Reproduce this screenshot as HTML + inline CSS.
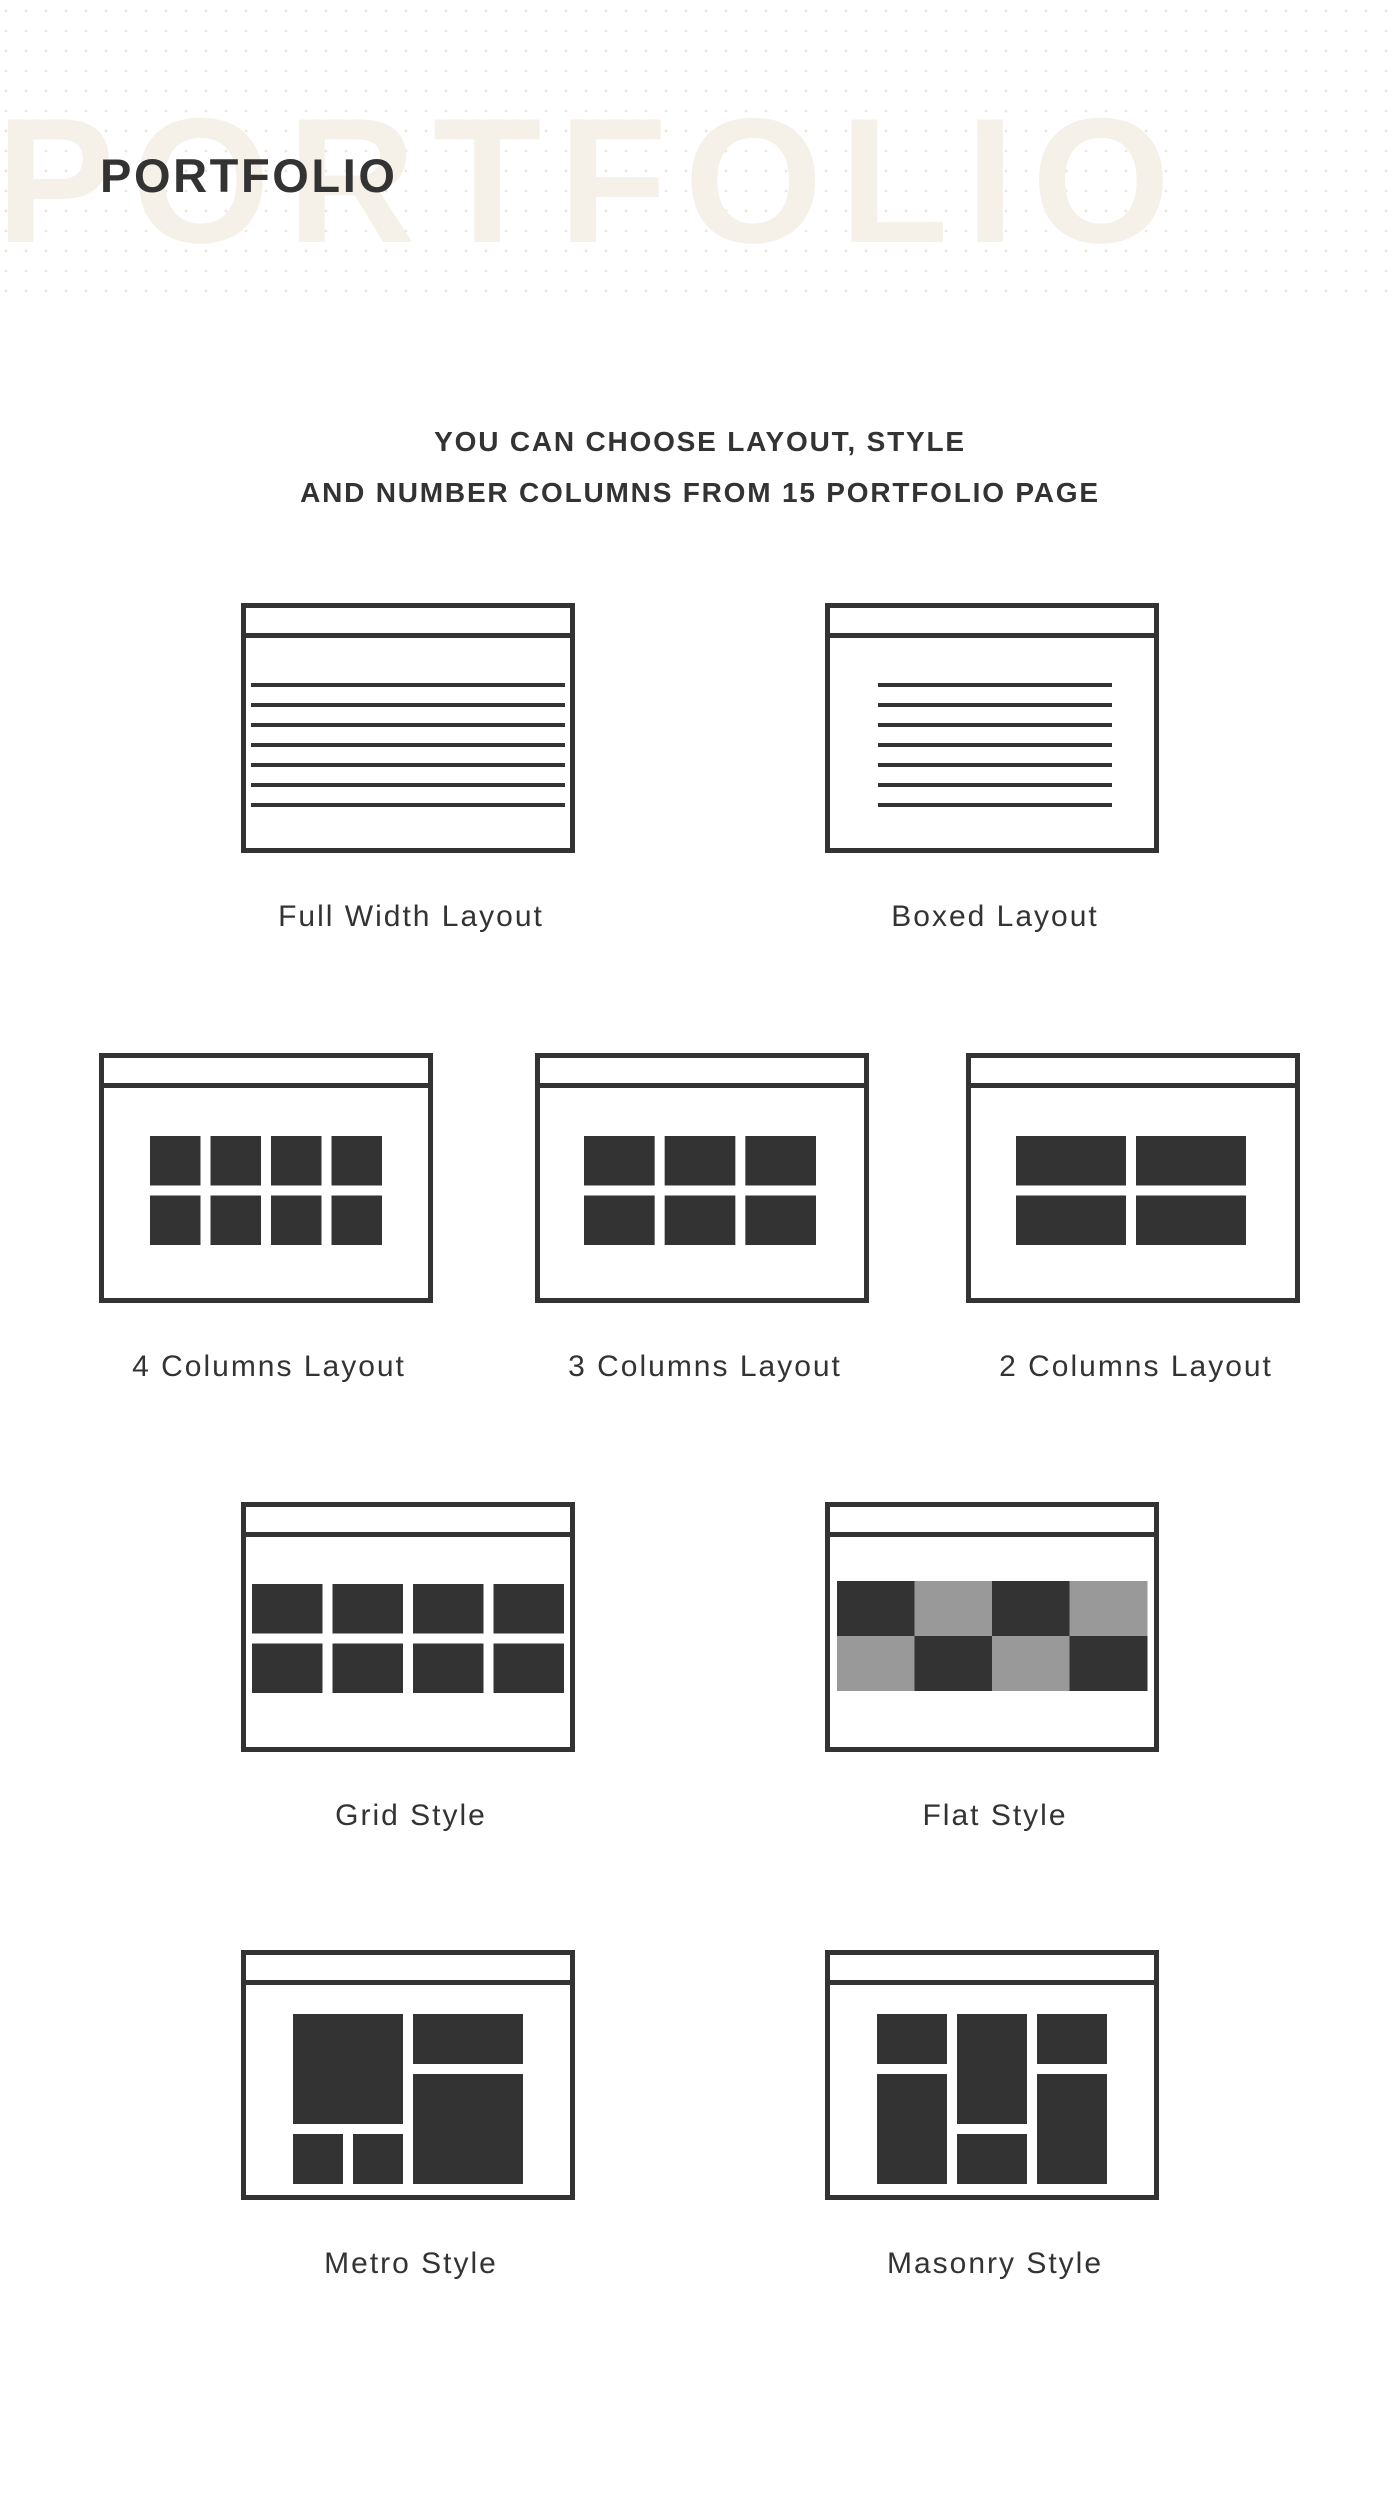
<!DOCTYPE html>
<html><head><meta charset="utf-8">
<style>
html,body{margin:0;padding:0;background:#fff;}
body{width:1400px;height:2500px;position:relative;overflow:hidden;font-family:"Liberation Sans",sans-serif;color:#333;}
#dots{position:absolute;left:0;top:0;width:1400px;height:310px;background-image:radial-gradient(circle,#ece7dc 1.2px,transparent 1.6px);background-size:20px 20px;background-position:-4px 1px;}
#wm{position:absolute;left:-4px;top:92px;font-size:178px;font-weight:bold;letter-spacing:17px;color:#f5f0e8;line-height:1;white-space:nowrap;}
#title{position:absolute;left:100px;top:152px;font-size:47px;font-weight:bold;letter-spacing:2.6px;line-height:1;color:#333;}
.sub{position:absolute;left:0;width:1400px;text-align:center;font-size:28px;font-weight:bold;line-height:1;letter-spacing:1.8px;color:#333;}
.lbl{position:absolute;width:500px;text-align:center;font-size:30px;line-height:1;letter-spacing:2px;color:#333;}
svg.box{position:absolute;overflow:visible;}
</style></head>
<body>
<div id="dots"></div>
<div id="wm">PORTFOLIO</div>
<div id="title">PORTFOLIO</div>
<div class="sub" style="top:428px">YOU CAN CHOOSE LAYOUT, STYLE</div>
<div class="sub" style="top:479px">AND NUMBER COLUMNS FROM 15 PORTFOLIO PAGE</div>
<script>
const NS='http://www.w3.org/2000/svg';
const items=[
 {name:'full-width-layout',label:'Full Width Layout',x:241,y:603,type:'lines',x0:10,x1:324},
 {name:'boxed-layout',label:'Boxed Layout',x:825,y:603,type:'lines',x0:53,x1:287},
 {name:'4-columns-layout',label:'4 Columns Layout',x:99,y:1053,type:'grid',cols:4,x0:51,x1:283,y0:83,y1:192,gap:10},
 {name:'3-columns-layout',label:'3 Columns Layout',x:535,y:1053,type:'grid',cols:3,x0:49,x1:281,y0:83,y1:192,gap:10},
 {name:'2-columns-layout',label:'2 Columns Layout',x:966,y:1053,type:'grid',cols:2,x0:50,x1:280,y0:83,y1:192,gap:10},
 {name:'grid-style',label:'Grid Style',x:241,y:1502,type:'grid',cols:4,x0:11,x1:323,y0:82,y1:191,gap:10},
 {name:'flat-style',label:'Flat Style',x:825,y:1502,type:'flat'},
 {name:'metro-style',label:'Metro Style',x:241,y:1950,type:'rects',rects:[[52,64,110,110],[172,64,110,50],[172,124,110,110],[52,184,50,50],[112,184,50,50]]},
 {name:'masonry-style',label:'Masonry Style',x:825,y:1950,type:'rects',rects:[[52,64,70,50],[52,124,70,110],[132,64,70,110],[132,184,70,50],[212,64,70,50],[212,124,70,110]]}
];
function mk(tag,attrs,parent){const e=document.createElementNS(NS,tag);for(const k in attrs)e.setAttribute(k,attrs[k]);parent.appendChild(e);return e;}
items.forEach(it=>{
 const s=document.createElementNS(NS,'svg');
 s.setAttribute('class','box');
 s.setAttribute('width','334');s.setAttribute('height','250');
 s.style.left=it.x+'px';s.style.top=it.y+'px';
 
 
 document.body.appendChild(s);
 mk('rect',{x:2.5,y:2.5,width:329,height:245,fill:'none',stroke:'#333','stroke-width':5},s);
 mk('rect',{x:0,y:30,width:334,height:5,fill:'#333'},s);
 if(it.type==='lines'){
  for(let i=0;i<7;i++)mk('rect',{x:it.x0,y:80+i*20,width:it.x1-it.x0,height:4,fill:'#333'},s);
 }else if(it.type==='grid'){
  const w=(it.x1-it.x0-(it.cols-1)*it.gap)/it.cols,h=(it.y1-it.y0-it.gap)/2;
  for(let r=0;r<2;r++)for(let c=0;c<it.cols;c++)mk('rect',{x:it.x0+c*(w+it.gap),y:it.y0+r*(h+it.gap),width:w,height:h,fill:'#333'},s);
 }else if(it.type==='flat'){
  const w=310/4,h=55;
  for(let r=0;r<2;r++)for(let c=0;c<4;c++)mk('rect',{x:12+c*w,y:79+r*h,width:w+0.5,height:h,fill:((r+c)%2===0)?'#333':'#999'},s);
 }else{
  it.rects.forEach(q=>mk('rect',{x:q[0],y:q[1],width:q[2],height:q[3],fill:'#333'},s));
 }
 const l=document.createElement('div');
 l.className='lbl';
 l.textContent=it.label;
 l.style.left=(it.x+170-250)+'px';
 l.style.top=(it.y+299)+'px';
 
 
 document.body.appendChild(l);
});
</script>
</body></html>
